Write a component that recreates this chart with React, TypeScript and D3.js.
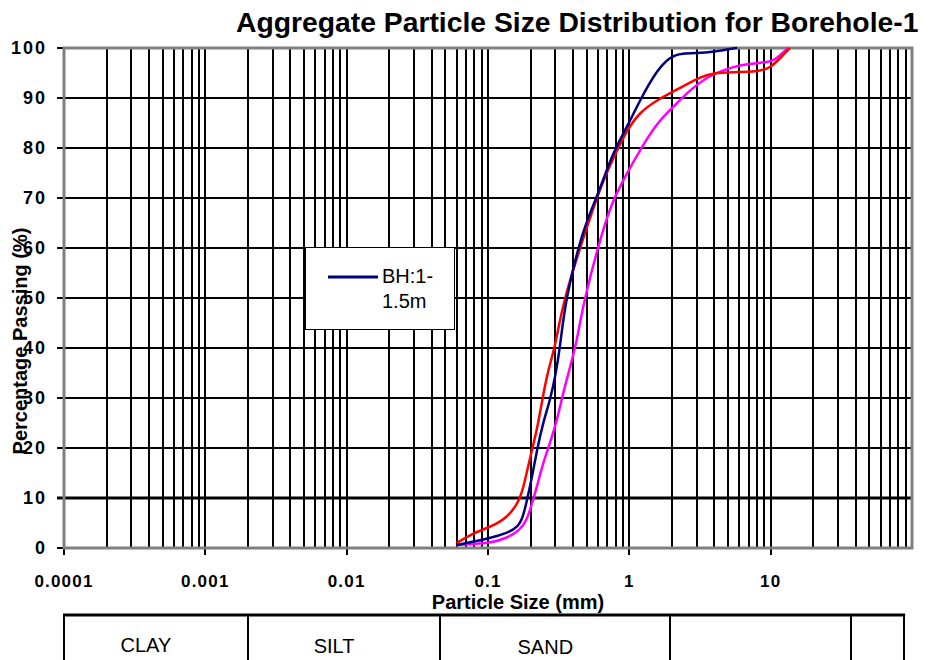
import React, { useEffect, useRef } from 'react';
import * as d3 from 'd3';

// particle size (mm) vs percentage passing
const bh1Size = [0.06, 0.079, 0.104, 0.137, 0.163, 0.177, 0.189, 0.205, 0.222, 0.245, 0.275, 0.299, 0.324, 0.352, 0.471, 0.592, 0.767, 0.964, 1.19, 1.57, 1.94, 2.29, 3.55, 4.61, 5.79];
const bh1Pass = [0.6, 1.3, 2.0, 3.0, 4.2, 6.2, 9.6, 14.2, 19.6, 25, 29.6, 34.2, 40.2, 49.6, 64, 70.2, 79.2, 84.2, 89.6, 95.6, 98.2, 99, 99, 99.6, 100];

const bh2Size = [0.06, 0.079, 0.104, 0.137, 0.169, 0.183, 0.199, 0.222, 0.242, 0.266, 0.299, 0.34, 0.528, 0.653, 0.821, 0.964, 1.19, 1.57, 2.29, 3.17, 3.92, 5.43, 8.02, 9.92, 11.7, 13.7];
const bh2Pass = [1.0, 3.0, 4.2, 6.0, 9.6, 13.6, 18.2, 23.6, 29.6, 35.6, 40.2, 49.6, 66.2, 73.6, 79.6, 83.6, 87.2, 89.6, 92, 94.2, 95, 95.2, 95.2, 96, 98, 100];

const bh3Size = [0.06, 0.079, 0.104, 0.137, 0.169, 0.189, 0.205, 0.222, 0.245, 0.275, 0.308, 0.34, 0.381, 0.428, 0.471, 0.653, 0.767, 0.964, 1.19, 1.57, 2.04, 2.69, 3.55, 4.61, 6.08, 8.02, 9.92, 11.1, 12.3, 13.3];
const bh3Pass = [0.6, 0.8, 1.0, 2.0, 3.6, 5.6, 9.0, 12.2, 17.0, 21.0, 25.6, 31, 36.2, 41.6, 49, 64, 69.6, 75, 79.6, 85, 88.2, 91.6, 94.2, 95.6, 96.6, 97, 97.2, 98, 99.2, 100];

const seriesColors = ['#000080', '#ff0000', '#ff00ff'];
const legendLines = ['BH:1-', '1.5m'];

const sizeTicks = [0.0001, 0.001, 0.01, 0.1, 1, 10];
const sizeTickLabels = ['0.0001', '0.001', '0.01', '0.1', '1', '10'];
const percentTicks = [0, 10, 20, 30, 40, 50, 60, 70, 80, 90, 100];

// soil classification strip under the chart
const soilBounds = [0.0001, 0.002, 0.046, 1.95, 37, 88];
const soilLabels = ['CLAY', 'SILT', 'SAND', '', ''];

const FONT = '"Liberation Sans", Arial, sans-serif';

const App = () => {
  const ref = useRef<SVGSVGElement | null>(null);

  useEffect(() => {
    const svg = d3.select(ref.current);
    svg.selectAll('*').remove();

    const left = 64, right = 912, top = 48, bottom = 548;

    const x = d3.scaleLog().domain([0.0001, 100]).range([left, right]);
    const y = d3.scaleLinear().domain([0, 100]).range([bottom, top]);

    // title
    svg.append('text')
      .attr('x', 236)
      .attr('y', 32)
      .attr('font-family', FONT)
      .attr('font-weight', 'bold')
      .attr('font-size', 28.3)
      .text('Aggregate Particle Size Distribution for Borehole-1');

    // vertical grid: 1..9 of every decade
    const minor: number[] = [];
    sizeTicks.forEach((d) => {
      for (let m = 1; m <= 9; m++) minor.push(d * m);
    });
    svg.append('g')
      .selectAll('line')
      .data(minor.filter((v) => v > 0.0001))
      .enter()
      .append('line')
      .attr('x1', (d) => Math.round(x(d)))
      .attr('x2', (d) => Math.round(x(d)))
      .attr('y1', top)
      .attr('y2', bottom)
      .attr('stroke', '#000')
      .attr('stroke-width', 2);

    // horizontal grid
    svg.append('g')
      .selectAll('line')
      .data(percentTicks.filter((v) => v > 0 && v < 100))
      .enter()
      .append('line')
      .attr('x1', left - 7)
      .attr('x2', right)
      .attr('y1', (d) => y(d))
      .attr('y2', (d) => y(d))
      .attr('stroke', '#000')
      .attr('stroke-width', (d) => (d === 10 ? 3 : 2));

    // y ticks at 0 and 100
    svg.append('g')
      .selectAll('line')
      .data([0, 100])
      .enter()
      .append('line')
      .attr('x1', left - 7)
      .attr('x2', left)
      .attr('y1', (d) => y(d))
      .attr('y2', (d) => y(d))
      .attr('stroke', '#000')
      .attr('stroke-width', 2);

    // x ticks at decades
    svg.append('g')
      .selectAll('line')
      .data(sizeTicks)
      .enter()
      .append('line')
      .attr('x1', (d) => Math.round(x(d)))
      .attr('x2', (d) => Math.round(x(d)))
      .attr('y1', bottom)
      .attr('y2', bottom + 7)
      .attr('stroke', '#000')
      .attr('stroke-width', 2);

    // plot frame
    svg.append('rect')
      .attr('x', left)
      .attr('y', top)
      .attr('width', right - left)
      .attr('height', bottom - top)
      .attr('fill', 'none')
      .attr('stroke', '#808080')
      .attr('stroke-width', 3);

    // y labels
    svg.append('g')
      .selectAll('text')
      .data(percentTicks)
      .enter()
      .append('text')
      .attr('x', 47)
      .attr('y', (d) => y(d) + 6)
      .attr('text-anchor', 'end')
      .attr('font-family', FONT)
      .attr('font-weight', 'bold')
      .attr('font-size', 18)
      .attr('letter-spacing', 2)
      .text((d) => d);

    // x labels
    svg.append('g')
      .selectAll('text')
      .data(sizeTicks)
      .enter()
      .append('text')
      .attr('x', (d) => x(d))
      .attr('y', 587)
      .attr('text-anchor', 'middle')
      .attr('font-family', FONT)
      .attr('font-weight', 'bold')
      .attr('font-size', 17)
      .attr('letter-spacing', 1.2)
      .text((d, i) => sizeTickLabels[i]);

    // axis titles
    svg.append('text')
      .attr('x', 518)
      .attr('y', 609)
      .attr('text-anchor', 'middle')
      .attr('font-family', FONT)
      .attr('font-weight', 'bold')
      .attr('font-size', 20)
      .text('Particle Size (mm)');

    svg.append('text')
      .attr('transform', 'translate(27,341) rotate(-90)')
      .attr('text-anchor', 'middle')
      .attr('font-family', FONT)
      .attr('font-weight', 'bold')
      .attr('font-size', 20)
      .text('Percentage Passing (%)');

    // curves
    const series = [
      bh1Size.map((s, i) => [s, bh1Pass[i]]),
      bh2Size.map((s, i) => [s, bh2Pass[i]]),
      bh3Size.map((s, i) => [s, bh3Pass[i]]),
    ];
    const line = d3.line<number[]>()
      .x((d) => x(d[0]))
      .y((d) => y(d[1]))
      .curve(d3.curveBasis);

    // draw magenta and red first, navy on top like the picture
    [2, 1, 0].forEach((k) => {
      svg.append('path')
        .attr('d', line(series[k]))
        .attr('fill', 'none')
        .attr('stroke', seriesColors[k])
        .attr('stroke-width', 2.5);
    });

    // legend (only first entry is visible)
    const lg = svg.append('g');
    lg.append('rect')
      .attr('x', 305.5)
      .attr('y', 247.5)
      .attr('width', 149)
      .attr('height', 82)
      .attr('fill', '#fff')
      .attr('stroke', '#000')
      .attr('stroke-width', 1);
    lg.append('line')
      .attr('x1', 328)
      .attr('x2', 378)
      .attr('y1', 277)
      .attr('y2', 277)
      .attr('stroke', seriesColors[0])
      .attr('stroke-width', 3);
    lg.selectAll('text.leg')
      .data(legendLines)
      .enter()
      .append('text')
      .attr('class', 'leg')
      .attr('x', 382)
      .attr('y', (d, i) => 283 + i * 25)
      .attr('font-family', FONT)
      .attr('font-size', 20)
      .text((d) => d);

    // soil classification strip
    const strip = svg.append('g');
    strip.append('line')
      .attr('x1', x(soilBounds[0]) - 1)
      .attr('x2', x(soilBounds[soilBounds.length - 1]) + 1)
      .attr('y1', 615)
      .attr('y2', 615)
      .attr('stroke', '#000')
      .attr('stroke-width', 3);
    strip.selectAll('line.sep')
      .data(soilBounds)
      .enter()
      .append('line')
      .attr('class', 'sep')
      .attr('x1', (d) => Math.round(x(d)))
      .attr('x2', (d) => Math.round(x(d)))
      .attr('y1', 615)
      .attr('y2', 662)
      .attr('stroke', '#000')
      .attr('stroke-width', 2);
    strip.selectAll('text')
      .data(soilLabels)
      .enter()
      .append('text')
      .attr('x', (d, i) => (x(soilBounds[i]) + x(soilBounds[i + 1])) / 2 - 10)
      .attr('y', (d, i) => 652 + i)
      .attr('text-anchor', 'middle')
      .attr('font-family', FONT)
      .attr('font-size', 20)
      .text((d) => d);
  }, []);

  return (
    <svg
      ref={ref}
      width={931}
      height={660}
      style={{ position: 'absolute', left: 0, top: 0, background: '#fff' }}
    />
  );
};

export default App;
